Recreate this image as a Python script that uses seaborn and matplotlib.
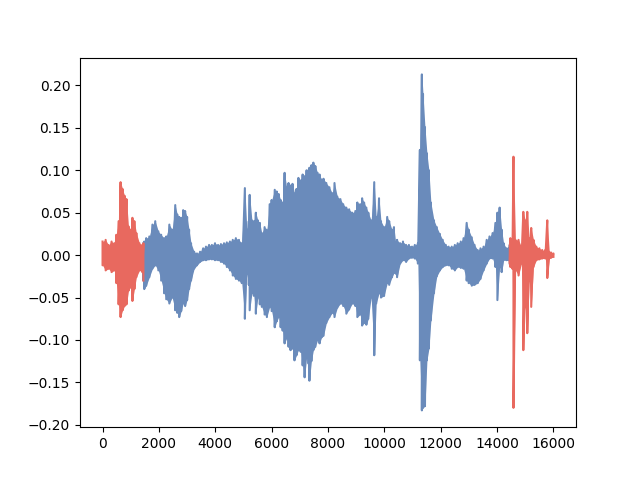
import matplotlib
matplotlib.use("Agg")
import matplotlib.pyplot as plt
import numpy as np
import pandas as pd
import seaborn as sns

# envelope of the waveform: sample index, upper and lower value
samples = [0, 110, 210, 320, 420, 490, 570, 640, 710, 780, 850, 920, 990, 1060,
           1130, 1200, 1310, 1410, 1450,
           1480, 1550, 1660, 1770, 1870, 1980, 2080, 2190, 2260, 2370, 2470, 2580,
           2650, 2720, 2790, 2860, 2930, 3000, 3070, 3140, 3250, 3350, 3460, 3570,
           3670, 3780, 3880, 3990, 4100, 4200, 4310, 4410, 4520, 4620, 4730, 4840,
           4940, 5050, 5120, 5190, 5220, 5300, 5370, 5440, 5510, 5580, 5650, 5750,
           5830, 5930, 6000, 6110, 6180, 6250, 6320, 6390, 6460, 6530, 6600, 6670,
           6740, 6810, 6880, 6950, 7030, 7100, 7170, 7240, 7310, 7340, 7410, 7480,
           7550, 7630, 7700, 7770, 7840, 7940, 8050, 8150, 8230, 8330, 8440, 8540,
           8650, 8750, 8860, 8970, 9040, 9140, 9210, 9280, 9360, 9430, 9530, 9640,
           9710, 9810, 9880, 9990, 10100, 10170, 10270, 10340, 10410, 10450, 10560,
           10660, 10770, 10870, 10980, 11080, 11190, 11260, 11330, 11370, 11440,
           11510, 11580, 11650, 11760, 11860, 11970, 12070, 12180, 12280, 12390,
           12500, 12600, 12710, 12810, 12920, 12990, 13100, 13200, 13310, 13410,
           13520, 13630, 13730, 13840, 13940, 14010, 14090, 14160, 14230, 14330,
           14400, 14450,
           14470, 14540, 14580, 14650, 14760, 14860, 14930, 15000, 15070, 15140,
           15210, 15290, 15390, 15500, 15600, 15710, 15780, 15850, 15920, 15999]

upper = [0.016, 0.018, 0.012, 0.016, 0.014, 0.024, 0.040, 0.086, 0.078, 0.070,
         0.066, 0.034, 0.030, 0.044, 0.040, 0.026, 0.014, 0.012, 0.014,
         0.016, 0.020, 0.022, 0.036, 0.040, 0.028, 0.024, 0.020, 0.022, 0.036,
         0.030, 0.059, 0.048, 0.045, 0.044, 0.053, 0.052, 0.045, 0.030, 0.014,
         0.004, 0.002, 0.004, 0.008, 0.010, 0.012, 0.012, 0.014, 0.012, 0.013,
         0.014, 0.015, 0.016, 0.018, 0.020, 0.018, 0.014, 0.079, 0.030, 0.040,
         0.071, 0.041, 0.040, 0.050, 0.041, 0.038, 0.026, 0.033, 0.030, 0.060,
         0.065, 0.077, 0.075, 0.072, 0.065, 0.062, 0.097, 0.080, 0.085, 0.082,
         0.084, 0.073, 0.078, 0.091, 0.088, 0.095, 0.093, 0.100, 0.100, 0.103,
         0.106, 0.109, 0.105, 0.097, 0.095, 0.089, 0.090, 0.085, 0.080, 0.073,
         0.085, 0.069, 0.066, 0.060, 0.056, 0.054, 0.050, 0.052, 0.062, 0.060,
         0.067, 0.062, 0.056, 0.050, 0.041, 0.086, 0.045, 0.067, 0.040, 0.033,
         0.045, 0.040, 0.030, 0.033, 0.012, 0.018, 0.014, 0.016, 0.012, 0.012,
         0.010, 0.012, 0.014, 0.124, 0.213, 0.190, 0.151, 0.120, 0.100, 0.062,
         0.041, 0.033, 0.025, 0.018, 0.012, 0.010, 0.010, 0.012, 0.014, 0.016,
         0.020, 0.038, 0.030, 0.021, 0.012, 0.006, 0.008, 0.010, 0.018, 0.022,
         0.026, 0.038, 0.050, 0.056, 0.030, 0.014, 0.008, 0.008, 0.012,
         0.020, 0.016, 0.116, 0.018, 0.018, 0.010, 0.051, 0.041, 0.051, 0.020,
         0.032, 0.018, 0.010, 0.008, 0.006, 0.006, 0.041, 0.004, 0.003, 0.002]

lower = [-0.012, -0.018, -0.016, -0.020, -0.018, -0.033, -0.058, -0.073, -0.065,
         -0.060, -0.058, -0.042, -0.038, -0.054, -0.040, -0.026, -0.018, -0.020,
         -0.030,
         -0.040, -0.036, -0.026, -0.016, -0.012, -0.018, -0.030, -0.045, -0.052,
         -0.057, -0.050, -0.065, -0.068, -0.073, -0.066, -0.057, -0.060, -0.053,
         -0.040, -0.030, -0.016, -0.012, -0.008, -0.006, -0.006, -0.005, -0.005,
         -0.006, -0.006, -0.008, -0.010, -0.014, -0.018, -0.024, -0.028, -0.030,
         -0.033, -0.075, -0.022, -0.035, -0.065, -0.045, -0.048, -0.069, -0.050,
         -0.058, -0.061, -0.070, -0.073, -0.061, -0.066, -0.085, -0.078, -0.073,
         -0.085, -0.089, -0.104, -0.098, -0.108, -0.112, -0.110, -0.124, -0.118,
         -0.112, -0.114, -0.130, -0.144, -0.121, -0.128, -0.148, -0.125, -0.112,
         -0.108, -0.100, -0.104, -0.097, -0.095, -0.080, -0.073, -0.068, -0.073,
         -0.062, -0.057, -0.060, -0.069, -0.064, -0.057, -0.060, -0.073, -0.070,
         -0.083, -0.080, -0.082, -0.075, -0.050, -0.118, -0.057, -0.045, -0.050,
         -0.048, -0.033, -0.035, -0.026, -0.021, -0.022, -0.026, -0.010, -0.006,
         -0.008, -0.004, -0.003, -0.004, -0.010, -0.124, -0.183, -0.180, -0.178,
         -0.124, -0.110, -0.077, -0.045, -0.025, -0.018, -0.014, -0.012, -0.012,
         -0.016, -0.018, -0.014, -0.015, -0.016, -0.030, -0.033, -0.036, -0.035,
         -0.033, -0.028, -0.018, -0.010, -0.004, -0.004, -0.014, -0.053, -0.014,
         -0.020, -0.006, -0.006, -0.006, -0.010,
         -0.014, -0.016, -0.180, -0.018, -0.024, -0.010, -0.112, -0.061, -0.092,
         -0.030, -0.061, -0.014, -0.006, -0.005, -0.004, -0.004, -0.027, -0.004,
         -0.003, -0.002]

trim_start = 1450   # end of leading trimmed part
trim_end = 14450    # start of trailing trimmed part

blue = "#6a8bbb"
red = "#e8695f"

df = pd.DataFrame({"sample": samples, "upper": upper, "lower": lower})


def draw_part(ax, part, color):
    # zigzag between upper and lower values, plus fill for the dense look
    xs = np.repeat(part["sample"].values, 2)
    ys = np.column_stack([part["upper"].values, part["lower"].values]).ravel()
    ax.fill_between(part["sample"], part["lower"], part["upper"], color=color, lw=0)
    sns.lineplot(x=xs, y=ys, sort=False, estimator=None, color=color, lw=1.5, ax=ax)


fig, ax = plt.subplots(figsize=(6.4, 4.8), dpi=100)

draw_part(ax, df[(df["sample"] >= trim_start) & (df["sample"] <= trim_end)], blue)
draw_part(ax, df[df["sample"] <= trim_start], red)
draw_part(ax, df[df["sample"] >= trim_end], red)

ax.set_xlabel("")
ax.set_ylabel("")
ax.set_xticks(np.arange(0, 16001, 2000))
ax.margins(x=0.05, y=0.05)

fig.savefig("out.png", dpi=100)
